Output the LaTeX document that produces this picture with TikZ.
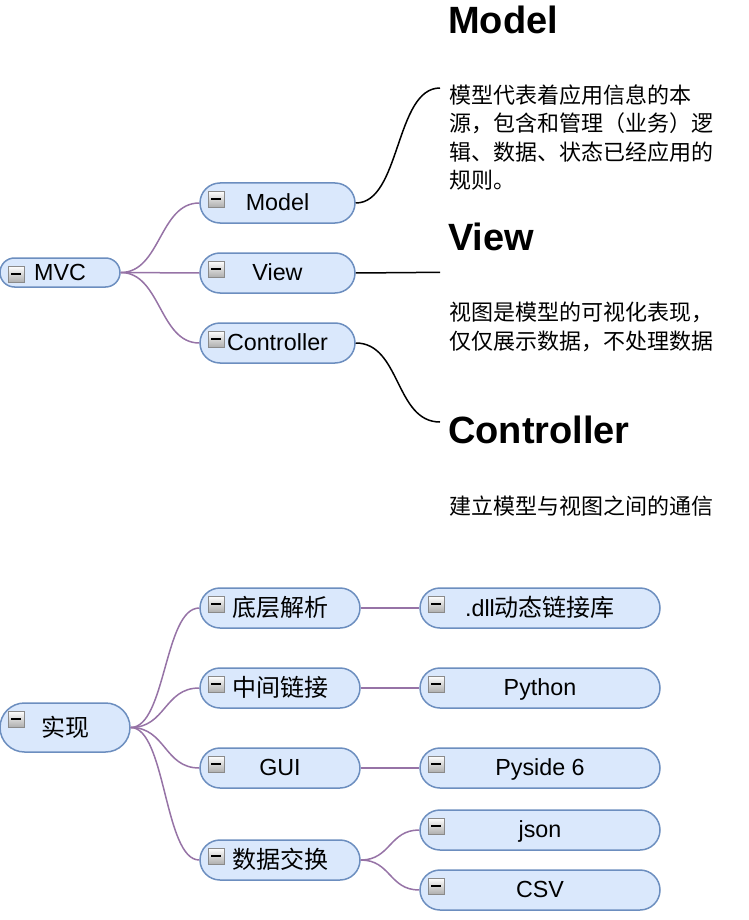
\documentclass[tikz,border=0pt]{standalone}
\usepackage{fontspec}
\setmainfont{Liberation Sans}
\newfontfamily\cjk{Noto Sans CJK SC}
\newcommand\cjkn{\cjk\fontsize{24}{28}\selectfont}
\definecolor{nodefill}{HTML}{DAE8FC}
\definecolor{nodeline}{HTML}{6C8EBF}
\definecolor{edgecol}{HTML}{9673A6}
\definecolor{iconline}{HTML}{8A8A8A}
\tikzset{
  topic/.style={draw=nodeline, fill=nodefill, line width=1.5pt,
    rounded corners=20pt, minimum width=155pt, minimum height=40pt,
    inner sep=0pt, text height=15pt, text depth=0pt,
    font=\fontsize{23.3}{26}\selectfont},
  edge/.style={draw=edgecol, line width=1.5pt},
  link/.style={draw=black, line width=1.5pt},
  heading/.style={anchor=base west, inner sep=0pt,
    font=\fontsize{38}{40}\selectfont\bfseries},
  body/.style={anchor=base west, inner sep=0pt, align=left,
    font=\cjk\fontsize{22}{28.6}\selectfont},
  iconbox/.style={draw=iconline, line width=1.3pt, top color=white, bottom color=black!32},
}
\begin{document}
\begin{tikzpicture}[x=1pt,y=-1pt]
\useasboundingbox (0,0) rectangle (748,920);
% MVC tree
\node[topic, minimum width=120pt, minimum height=29pt, rounded corners=14.5pt] (mvc) at (60,272.5) {MVC};
\node[topic] (model) at (277.5,203) {Model};
\node[topic] (view) at (277.5,273) {View};
\node[topic] (ctrl) at (277.5,343) {Controller};
\draw[edge] (mvc.east) .. controls +(40,0) and +(-40,0) .. (model.west);
\draw[edge] (mvc.east) -- (view.west);
\draw[edge] (mvc.east) .. controls +(40,0) and +(-40,0) .. (ctrl.west);
% notes (base anchor = baseline of the last line)
\node[heading] (hmodel) at (448,33.5) {Model};
\node[body] (bmodel) at (449,188.8) {模型代表着应用信息的本\\源，包含和管理（业务）逻\\辑、数据、状态已经应用的\\规则。};
\node[heading] (hview) at (448,250) {View};
\node[body] (bview) at (449,349.5) {视图是模型的可视化表现，\\仅仅展示数据，不处理数据};
\node[heading] (hctrl) at (448,443) {Controller};
\node[body] (bctrl) at (449,514) {建立模型与视图之间的通信};
\coordinate (emodel) at (440,88);
\coordinate (eview) at (440,272.3);
\coordinate (ectrl) at (440,422);
\draw[link] (model.east) .. controls +(45,0) and +(-45,0) .. (emodel);
\draw[link] (view.east) -- (eview);
\draw[link] (ctrl.east) .. controls +(45,0) and +(-45,0) .. (ectrl);
% implementation tree
\node[topic, minimum width=130pt, minimum height=49pt, rounded corners=24.5pt, text height=17pt] (shixian) at (65,727.5) {\cjkn 实现};
\node[topic, minimum width=160pt, text height=16.5pt] (dc) at (280,608) {\cjkn 底层解析};
\node[topic, minimum width=160pt, text height=16.5pt] (zj) at (280,688) {\cjkn 中间链接};
\node[topic, minimum width=160pt] (gui) at (280,768) {GUI};
\node[topic, minimum width=160pt, text height=16.5pt] (sj) at (280,860) {\cjkn 数据交换};
\node[topic, minimum width=240pt, text height=16.5pt] (dll) at (540,608) {.dll{\cjkn 动态链接库}};
\node[topic, minimum width=240pt] (py) at (540,688) {Python};
\node[topic, minimum width=240pt] (pyside) at (540,768) {Pyside 6};
\node[topic, minimum width=240pt] (json) at (540,830) {json};
\node[topic, minimum width=240pt] (csv) at (540,890) {CSV};
\draw[edge] (shixian.east) .. controls +(35,0) and +(-35,0) .. (dc.west);
\draw[edge] (shixian.east) .. controls +(35,0) and +(-35,0) .. (zj.west);
\draw[edge] (shixian.east) .. controls +(35,0) and +(-35,0) .. (gui.west);
\draw[edge] (shixian.east) .. controls +(35,0) and +(-35,0) .. (sj.west);
\draw[edge] (dc.east) -- (dll.west);
\draw[edge] (zj.east) -- (py.west);
\draw[edge] (gui.east) -- (pyside.west);
\draw[edge] (sj.east) .. controls +(30,0) and +(-30,0) .. (json.west);
\draw[edge] (sj.east) .. controls +(30,0) and +(-30,0) .. (csv.west);
% collapse icons
\foreach \n in {mvc,model,view,ctrl,shixian,dc,zj,gui,sj,dll,py,pyside,json,csv}{
  \draw[iconbox] ([shift={(9,9)}]\n.north west) rectangle ++(16,16);
  \fill[black] ([shift={(12,16)}]\n.north west) rectangle ++(10,2);
}
\end{tikzpicture}
\end{document}
